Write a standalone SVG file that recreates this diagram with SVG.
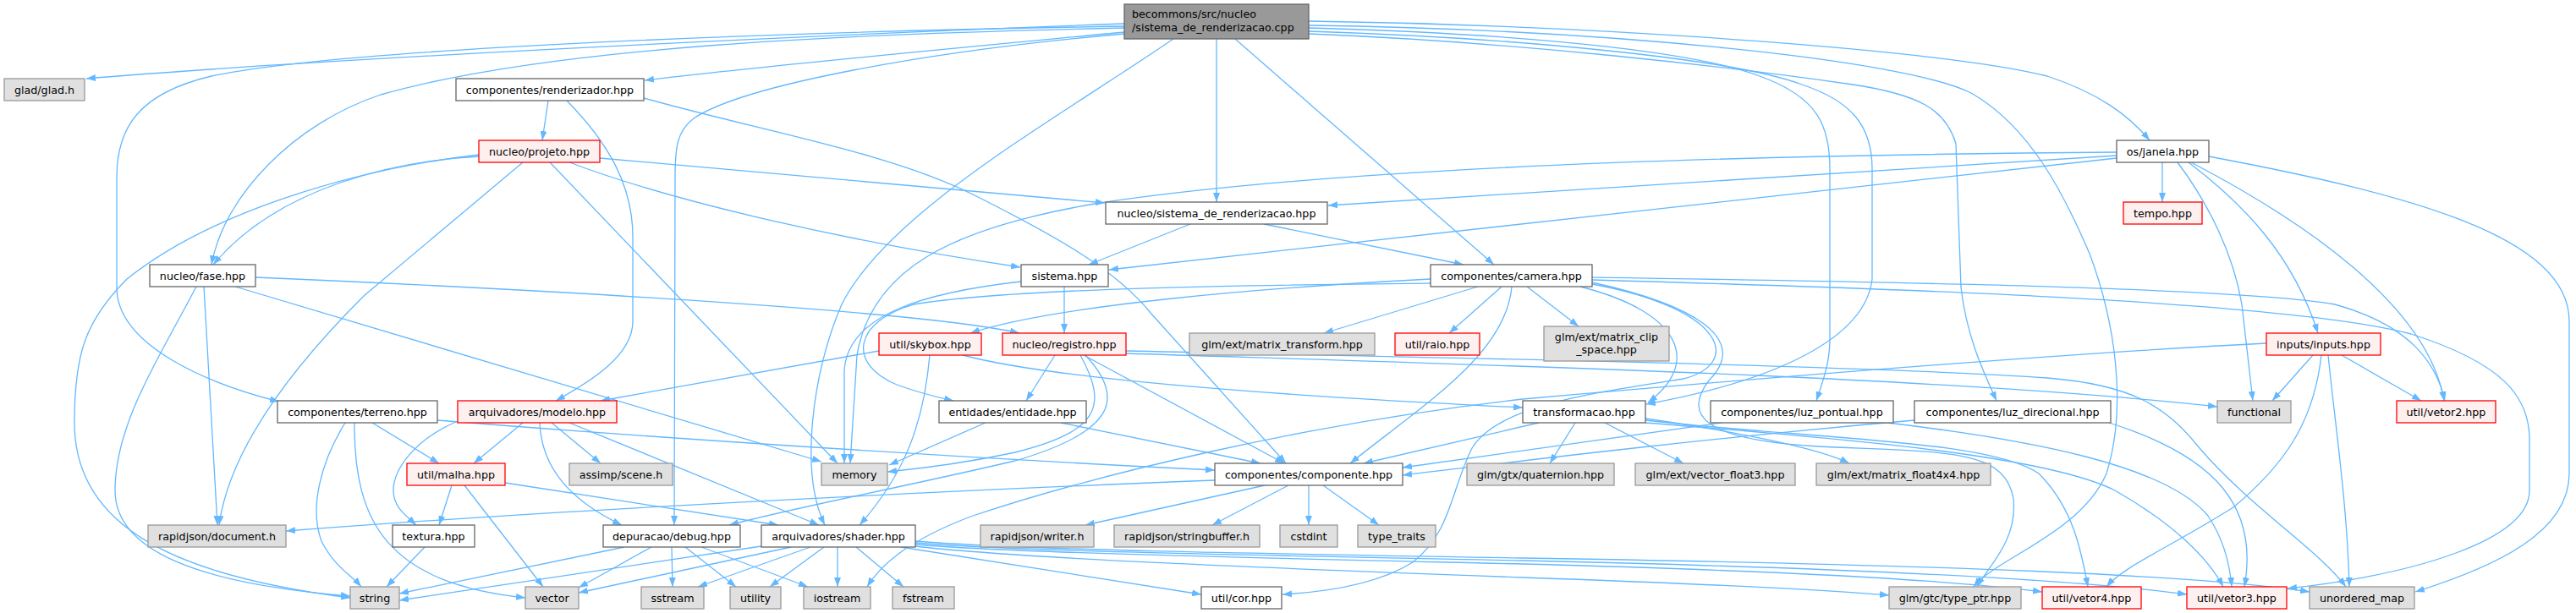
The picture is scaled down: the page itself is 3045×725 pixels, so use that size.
<svg xmlns="http://www.w3.org/2000/svg" width="3045" height="725" viewBox="0 0 3045 725">
<style>
text{font-family:"DejaVu Sans","Liberation Sans",sans-serif;font-size:12.7px;fill:#000;text-anchor:middle}
.n rect{fill:#fff;stroke:#666;stroke-width:1.3}
.g rect{fill:#e0e0e0;stroke:#999;stroke-width:1.3}
.r rect{fill:#fff0f0;stroke:#f00;stroke-width:1.3}
.t rect{fill:#999;stroke:#666;stroke-width:1.3}
#edges path{fill:none;stroke:#63b8ff;stroke-width:1.3;marker-end:url(#a)}
</style>
<defs>
<marker id="a" markerUnits="userSpaceOnUse" markerWidth="11" markerHeight="8" refX="11" refY="4" orient="auto">
<path d="M0,0 L11,4 L0,8 z" fill="#63b8ff" stroke="none"/>
</marker>
</defs>
<rect width="3045" height="725" fill="#fff"/>
<g id="edges">
<path d="M1329,28 C1000,40 400,68 102,93"/>
<path d="M1329,38 C1150,55 900,78 762,95"/>
<path d="M1329,33 C1000,40 650,55 450,112 C350,145 265,230 250,313"/>
<path d="M1329,31 C900,38 400,58 250,90 C165,110 138,150 138,210 L138,340 C138,410 250,455 330,475"/>
<path d="M1329,40 C1100,60 880,100 820,140 C800,155 798,175 798,210 L797,621"/>
<path d="M1387,46 C1250,140 1050,250 995,360 C960,440 945,560 975,621"/>
<path d="M1438,46 L1438,239"/>
<path d="M1460,46 L1766,313"/>
<path d="M1547,25 C1900,30 2300,60 2420,90 C2480,110 2515,135 2541,166"/>
<path d="M1547,33 C1800,40 2000,60 2080,90 C2150,115 2163,150 2163,200 L2163,400 C2163,430 2155,450 2147,474"/>
<path d="M1547,37 C1800,45 2050,70 2130,100 C2190,120 2213,150 2213,200 L2213,330 C2205,400 2100,450 1946,478"/>
<path d="M1547,40 C1800,50 2050,80 2190,100 C2270,112 2300,130 2312,170 L2318,340 C2325,400 2345,440 2360,474"/>
<path d="M1547,30 C1900,35 2250,70 2330,110 C2400,150 2440,230 2470,300 C2500,380 2515,480 2490,560 C2460,630 2360,660 2333,694"/>
<path d="M648,119 L641,166"/>
<path d="M670,119 C720,170 748,220 748,280 L748,380 C748,420 700,450 657,474"/>
<path d="M761,116 C900,155 1050,180 1150,230 C1250,280 1320,320 1360,370 L1520,548"/>
<path d="M566,185 C470,190 330,220 252,313"/>
<path d="M566,183 C420,200 250,250 150,330 C100,380 88,420 88,500 C88,620 200,680 414,707"/>
<path d="M618,192 L430,350 C330,450 270,540 259,621"/>
<path d="M650,192 L990,548"/>
<path d="M673,192 C800,240 1000,285 1206,316"/>
<path d="M709,187 L1306,240"/>
<path d="M302,328 C700,345 1100,370 1205,394"/>
<path d="M278,339 L971,546"/>
<path d="M241,339 L257,621"/>
<path d="M232,339 C190,420 136,500 136,580 C136,650 230,690 414,705"/>
<path d="M1407,265 L1287,313"/>
<path d="M1494,265 L1730,313"/>
<path d="M2556,192 L2556,239"/>
<path d="M2502,184 L1570,243"/>
<path d="M2502,187 L1311,319"/>
<path d="M2502,180 C2100,183 1600,195 1300,240 C1120,270 1030,320 1013,420 L1005,548"/>
<path d="M2574,192 C2610,240 2640,300 2650,360 L2663,474"/>
<path d="M2587,192 C2650,240 2710,300 2740,394"/>
<path d="M2590,192 C2720,260 2870,360 2889,474"/>
<path d="M2611,185 C2850,230 3037,280 3037,380 L3037,560 C3037,630 2950,670 2855,700"/>
<path d="M1258,339 L1258,394"/>
<path d="M1207,333 C1100,345 1000,370 998,440 L998,548"/>
<path d="M1691,330 C1500,340 1250,360 1147,394"/>
<path d="M1691,335 C1500,337 1200,340 1080,360 C1010,380 1000,430 1060,455 C1090,466 1110,470 1127,474"/>
<path d="M1747,339 L1565,394"/>
<path d="M1775,339 L1713,394"/>
<path d="M1805,339 L1866,386"/>
<path d="M1787,339 C1780,420 1680,480 1596,548"/>
<path d="M1868,339 C1990,370 2010,430 1948,476"/>
<path d="M1882,336 C2040,365 2060,430 1990,448 C1880,465 1770,480 1740,530 C1715,580 1715,630 1670,665 C1630,690 1570,700 1516,703"/>
<path d="M1882,334 C2000,360 2070,400 2020,450 C1990,490 2010,520 2150,528 C2300,535 2370,530 2380,590 C2385,640 2350,670 2337,694"/>
<path d="M1882,328 C2200,333 2650,340 2760,360 C2850,385 2880,430 2890,474"/>
<path d="M1882,331 C2200,340 2700,355 2850,395 C2960,430 2990,470 2990,520 L2990,580 C2990,640 2850,680 2704,696"/>
<path d="M1039,415 L710,474"/>
<path d="M1099,420 C1092,500 1070,560 1016,621"/>
<path d="M1138,420 C1250,450 1550,470 1800,482"/>
<path d="M1247,420 L1213,474"/>
<path d="M1277,420 C1310,480 1300,510 1200,535 C1130,550 1080,555 1049,558"/>
<path d="M1283,420 C1330,470 1320,510 1200,545 C1050,580 940,600 862,621"/>
<path d="M1281,420 L1518,548"/>
<path d="M1331,418 C1700,430 2300,445 2621,481"/>
<path d="M1331,415 C1700,423 2200,432 2420,447 C2520,455 2560,480 2600,530 C2660,600 2740,650 2773,694"/>
<path d="M1165,500 L1051,550"/>
<path d="M1254,500 L1490,548"/>
<path d="M408,500 C380,545 365,600 380,640 C395,670 415,680 427,694"/>
<path d="M419,500 C418,620 460,690 621,707"/>
<path d="M440,500 L519,548"/>
<path d="M517,497 C800,520 1200,545 1436,556"/>
<path d="M618,500 L560,548"/>
<path d="M541,498 C490,520 465,555 465,580 C465,600 480,610 492,621"/>
<path d="M652,500 L710,548"/>
<path d="M638,500 C640,550 670,590 735,621"/>
<path d="M673,500 L968,621"/>
<path d="M534,574 L519,621"/>
<path d="M549,574 L642,694"/>
<path d="M597,571 L920,621"/>
<path d="M502,647 L457,694"/>
<path d="M738,647 L472,702"/>
<path d="M770,647 L684,695"/>
<path d="M794,647 L795,694"/>
<path d="M810,647 L870,694"/>
<path d="M829,647 L955,694"/>
<path d="M900,646 L472,710"/>
<path d="M935,647 L684,701"/>
<path d="M958,647 L825,694"/>
<path d="M974,647 L910,694"/>
<path d="M990,647 L990,694"/>
<path d="M1012,647 L1068,694"/>
<path d="M1065,647 L1420,703"/>
<path d="M1082,646 C1200,660 1500,672 1800,683 C2000,690 2150,697 2233,704"/>
<path d="M1082,644 C1200,654 1500,660 1800,667 C2100,675 2300,685 2414,700"/>
<path d="M1082,642 C1200,652 1500,657 1800,663 C2200,672 2450,685 2585,703"/>
<path d="M1082,640 C1200,650 1500,655 1800,660 C2300,668 2600,680 2730,700"/>
<path d="M1436,568 C1200,577 700,600 338,628"/>
<path d="M1495,574 L1283,621"/>
<path d="M1523,574 L1433,621"/>
<path d="M1547,574 L1547,621"/>
<path d="M1564,574 L1630,621"/>
<path d="M1819,500 L1612,548"/>
<path d="M1862,500 L1832,548"/>
<path d="M1897,500 L1990,548"/>
<path d="M1945,495 C2050,510 2150,530 2186,548"/>
<path d="M1945,497 C2150,520 2350,520 2410,560 C2450,600 2460,650 2468,694"/>
<path d="M1945,500 C2200,520 2420,540 2500,580 C2570,620 2610,660 2628,694"/>
<path d="M2035,500 L1658,553"/>
<path d="M2231,500 C2400,520 2560,550 2610,610 C2630,640 2636,670 2638,694"/>
<path d="M2263,497 C2000,520 1800,545 1658,562"/>
<path d="M2493,500 C2620,540 2670,600 2653,694"/>
<path d="M2734,420 L2686,474"/>
<path d="M2768,420 L2862,474"/>
<path d="M2744,420 C2735,500 2700,550 2640,600 C2560,650 2510,670 2490,694"/>
<path d="M2752,420 C2760,500 2775,600 2777,694"/>
<path d="M2679,406 C2400,420 2050,450 1800,472 C1550,500 1300,560 1150,610 C1070,640 1040,670 1025,694"/>
</g>
<g id="n_top" class="t"><rect x="1329" y="5" width="218" height="41"/><text x="1338" y="21" style="text-anchor:start">becommons/src/nucleo</text><text x="1338" y="37" style="text-anchor:start">/sistema_de_renderizacao.cpp</text></g>
<g id="n_glad" class="g"><rect x="5" y="93" width="95" height="26"/><text x="52.5" y="110.5">glad/glad.h</text></g>
<g id="n_renderizador" class="n"><rect x="539" y="93" width="222" height="26"/><text x="650" y="110.5">componentes/renderizador.hpp</text></g>
<g id="n_projeto" class="r"><rect x="566" y="166" width="143" height="26"/><text x="637.5" y="183.5">nucleo/projeto.hpp</text></g>
<g id="n_janela" class="n"><rect x="2502" y="166" width="109" height="26"/><text x="2556.5" y="183.5">os/janela.hpp</text></g>
<g id="n_sdr" class="n"><rect x="1307" y="239" width="262" height="26"/><text x="1438" y="256.5">nucleo/sistema_de_renderizacao.hpp</text></g>
<g id="n_tempo" class="r"><rect x="2510" y="239" width="93" height="26"/><text x="2556.5" y="256.5">tempo.hpp</text></g>
<g id="n_fase" class="n"><rect x="177" y="313" width="125" height="26"/><text x="239.5" y="330.5">nucleo/fase.hpp</text></g>
<g id="n_sistema" class="n"><rect x="1207" y="313" width="103" height="26"/><text x="1258.5" y="330.5">sistema.hpp</text></g>
<g id="n_camera" class="n"><rect x="1691" y="313" width="191" height="26"/><text x="1786.5" y="330.5">componentes/camera.hpp</text></g>
<g id="n_skybox" class="r"><rect x="1039" y="394" width="121" height="26"/><text x="1099.5" y="411.5">util/skybox.hpp</text></g>
<g id="n_registro" class="r"><rect x="1185" y="394" width="146" height="26"/><text x="1258" y="411.5">nucleo/registro.hpp</text></g>
<g id="n_matrix_transform" class="g"><rect x="1406" y="394" width="219" height="26"/><text x="1515.5" y="411.5">glm/ext/matrix_transform.hpp</text></g>
<g id="n_raio" class="r"><rect x="1649" y="394" width="100" height="26"/><text x="1699" y="411.5">util/raio.hpp</text></g>
<g id="n_matrix_clip" class="g"><rect x="1825" y="386" width="148" height="41"/><text x="1899" y="403">glm/ext/matrix_clip</text><text x="1899" y="418">_space.hpp</text></g>
<g id="n_inputs" class="r"><rect x="2679" y="394" width="135" height="26"/><text x="2746.5" y="411.5">inputs/inputs.hpp</text></g>
<g id="n_terreno" class="n"><rect x="328" y="474" width="189" height="26"/><text x="422.5" y="491.5">componentes/terreno.hpp</text></g>
<g id="n_modelo" class="r"><rect x="541" y="474" width="188" height="26"/><text x="635" y="491.5">arquivadores/modelo.hpp</text></g>
<g id="n_entidade" class="n"><rect x="1110" y="474" width="174" height="26"/><text x="1197" y="491.5">entidades/entidade.hpp</text></g>
<g id="n_transformacao" class="n"><rect x="1800" y="474" width="145" height="26"/><text x="1872.5" y="491.5">transformacao.hpp</text></g>
<g id="n_luz_pontual" class="n"><rect x="2022" y="474" width="216" height="26"/><text x="2130" y="491.5">componentes/luz_pontual.hpp</text></g>
<g id="n_luz_direcional" class="n"><rect x="2263" y="474" width="232" height="26"/><text x="2379" y="491.5">componentes/luz_direcional.hpp</text></g>
<g id="n_functional" class="g"><rect x="2621" y="474" width="87" height="26"/><text x="2664.5" y="491.5">functional</text></g>
<g id="n_vetor2" class="r"><rect x="2833" y="474" width="117" height="26"/><text x="2891.5" y="491.5">util/vetor2.hpp</text></g>
<g id="n_malha" class="r"><rect x="481" y="548" width="116" height="26"/><text x="539" y="565.5">util/malha.hpp</text></g>
<g id="n_assimp" class="g"><rect x="673" y="548" width="122" height="26"/><text x="734" y="565.5">assimp/scene.h</text></g>
<g id="n_memory" class="g"><rect x="971" y="548" width="78" height="26"/><text x="1010" y="565.5">memory</text></g>
<g id="n_componente" class="n"><rect x="1436" y="548" width="222" height="26"/><text x="1547" y="565.5">componentes/componente.hpp</text></g>
<g id="n_quaternion" class="g"><rect x="1734" y="548" width="174" height="26"/><text x="1821" y="565.5">glm/gtx/quaternion.hpp</text></g>
<g id="n_vector_float3" class="g"><rect x="1933" y="548" width="189" height="26"/><text x="2027.5" y="565.5">glm/ext/vector_float3.hpp</text></g>
<g id="n_matrix_float4x4" class="g"><rect x="2147" y="548" width="206" height="26"/><text x="2250" y="565.5">glm/ext/matrix_float4x4.hpp</text></g>
<g id="n_document" class="g"><rect x="175" y="621" width="163" height="26"/><text x="256.5" y="638.5">rapidjson/document.h</text></g>
<g id="n_textura" class="n"><rect x="464" y="621" width="97" height="26"/><text x="512.5" y="638.5">textura.hpp</text></g>
<g id="n_debug" class="n"><rect x="713" y="621" width="162" height="26"/><text x="794" y="638.5">depuracao/debug.hpp</text></g>
<g id="n_shader" class="n"><rect x="900" y="621" width="182" height="26"/><text x="991" y="638.5">arquivadores/shader.hpp</text></g>
<g id="n_writer" class="g"><rect x="1159" y="621" width="134" height="26"/><text x="1226" y="638.5">rapidjson/writer.h</text></g>
<g id="n_stringbuffer" class="g"><rect x="1317" y="621" width="172" height="26"/><text x="1403" y="638.5">rapidjson/stringbuffer.h</text></g>
<g id="n_cstdint" class="g"><rect x="1513" y="621" width="68" height="26"/><text x="1547" y="638.5">cstdint</text></g>
<g id="n_type_traits" class="g"><rect x="1605" y="621" width="92" height="26"/><text x="1651" y="638.5">type_traits</text></g>
<g id="n_string" class="g"><rect x="414" y="694" width="58" height="26"/><text x="443" y="711.5">string</text></g>
<g id="n_vector" class="g"><rect x="621" y="694" width="63" height="26"/><text x="652.5" y="711.5">vector</text></g>
<g id="n_sstream" class="g"><rect x="758" y="694" width="74" height="26"/><text x="795" y="711.5">sstream</text></g>
<g id="n_utility" class="g"><rect x="863" y="694" width="60" height="26"/><text x="893" y="711.5">utility</text></g>
<g id="n_iostream" class="g"><rect x="950" y="694" width="79" height="26"/><text x="989.5" y="711.5">iostream</text></g>
<g id="n_fstream" class="g"><rect x="1055" y="694" width="73" height="26"/><text x="1091.5" y="711.5">fstream</text></g>
<g id="n_cor" class="n"><rect x="1420" y="694" width="95" height="26"/><text x="1467.5" y="711.5">util/cor.hpp</text></g>
<g id="n_type_ptr" class="g"><rect x="2233" y="694" width="156" height="26"/><text x="2311" y="711.5">glm/gtc/type_ptr.hpp</text></g>
<g id="n_vetor4" class="r"><rect x="2414" y="694" width="117" height="26"/><text x="2472.5" y="711.5">util/vetor4.hpp</text></g>
<g id="n_vetor3" class="r"><rect x="2585" y="694" width="118" height="26"/><text x="2644" y="711.5">util/vetor3.hpp</text></g>
<g id="n_unordered_map" class="g"><rect x="2730" y="694" width="124" height="26"/><text x="2792" y="711.5">unordered_map</text></g>
</svg>
